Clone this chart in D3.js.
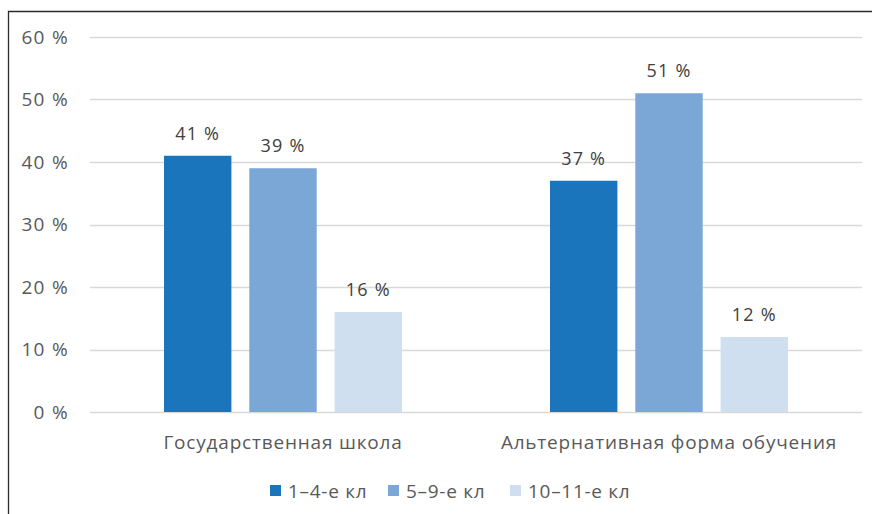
<!DOCTYPE html>
<html>
<head>
<meta charset="utf-8">
<script src="https://cdn.jsdelivr.net/npm/d3@7"></script>
<style>
  body { margin: 0; background: #fff; }
  text { font-family: "Open Sans", "Noto Sans", sans-serif; }
</style>
</head>
<body>
<script>
var categories = ["Государственная школа", "Альтернативная форма обучения"];
var seriesNames = ["1–4-е кл", "5–9-е кл", "10–11-е кл"];
var seriesColors = ["#1a75bc", "#7ba7d7", "#cfdfef"];
var grade1to4 = [41, 37];
var grade5to9 = [39, 51];
var grade10to11 = [16, 12];
var yTicks = [0, 10, 20, 30, 40, 50, 60];

var rows = categories.map(function(c, i) {
  return {cat: c, vals: [grade1to4[i], grade5to9[i], grade10to11[i]]};
});

var W = 872, H = 514;
var margin = {top: 37, right: 10, bottom: 102, left: 90},
    width = 862 - margin.left,
    height = 412 - margin.top;

var svg = d3.select("body").append("svg")
    .attr("width", W)
    .attr("height", H);

// frame
svg.append("path")
    .attr("d", "M8.5," + H + "V11.5H" + W)
    .attr("fill", "none")
    .attr("stroke", "#2b2b2b")
    .attr("stroke-width", 1.3);

var g = svg.append("g")
    .attr("transform", "translate(" + margin.left + "," + margin.top + ")");

var x0 = d3.scaleBand().domain(categories).range([0, width]);
var x1 = d3.scaleBand().domain(d3.range(3)).range([74, 312]).paddingInner(0.21);
var y = d3.scaleLinear().domain([0, 60]).range([height, 0]);

// gridlines
g.selectAll(".grid")
    .data(yTicks)
  .enter().append("line")
    .attr("x1", 0).attr("x2", width)
    .attr("y1", function(d) { return Math.round(y(d)) + 0.5; })
    .attr("y2", function(d) { return Math.round(y(d)) + 0.5; })
    .attr("stroke", "#d9d9d9")
    .attr("stroke-width", 1.5);

// y labels
g.selectAll(".ylab")
    .data(yTicks)
  .enter().append("text")
    .attr("x", -21)
    .attr("y", function(d) { return y(d); })
    .attr("dy", "0.35em")
    .attr("text-anchor", "end")
    .attr("fill", "#595959")
    .style("font-size", "19px")
    .style("letter-spacing", "1.3px")
    .text(function(d) { return d + " %"; });

var grp = g.selectAll(".grp")
    .data(rows)
  .enter().append("g")
    .attr("transform", function(d) { return "translate(" + x0(d.cat) + ",0)"; });

grp.selectAll("rect")
    .data(function(d) { return d.vals; })
  .enter().append("rect")
    .attr("x", function(d, i) { return x1(i); })
    .attr("width", x1.bandwidth())
    .attr("y", function(d) { return y(d); })
    .attr("height", function(d) { return height - y(d); })
    .attr("fill", function(d, i) { return seriesColors[i]; });

grp.selectAll(".val")
    .data(function(d) { return d.vals; })
  .enter().append("text")
    .attr("x", function(d, i) { return x1(i) + x1.bandwidth() / 2; })
    .attr("y", function(d) { return y(d) - 16; })
    .attr("text-anchor", "middle")
    .attr("fill", "#404040")
    .style("font-size", "18px")
    .style("letter-spacing", "1.2px")
    .text(function(d) { return d + " %"; });

// category labels
g.selectAll(".cat")
    .data(categories)
  .enter().append("text")
    .attr("x", function(d) { return x0(d) + x0.bandwidth() / 2; })
    .attr("y", height + 37)
    .attr("text-anchor", "middle")
    .attr("fill", "#595959")
    .style("font-size", "19px")
    .style("letter-spacing", "0.8px")
    .text(function(d) { return d; });

// legend
var legendX = [270, 388, 510];
var leg = svg.selectAll(".leg")
    .data(seriesNames)
  .enter().append("g")
    .attr("transform", function(d, i) { return "translate(" + legendX[i] + ",485)"; });

leg.append("rect")
    .attr("width", 11).attr("height", 11)
    .attr("fill", function(d, i) { return seriesColors[i]; });

leg.append("text")
    .attr("x", 18)
    .attr("y", 6)
    .attr("dy", "0.35em")
    .attr("fill", "#595959")
    .style("font-size", "19px")
    .style("letter-spacing", "0.7px")
    .text(function(d) { return d; });
</script>
</body>
</html>
